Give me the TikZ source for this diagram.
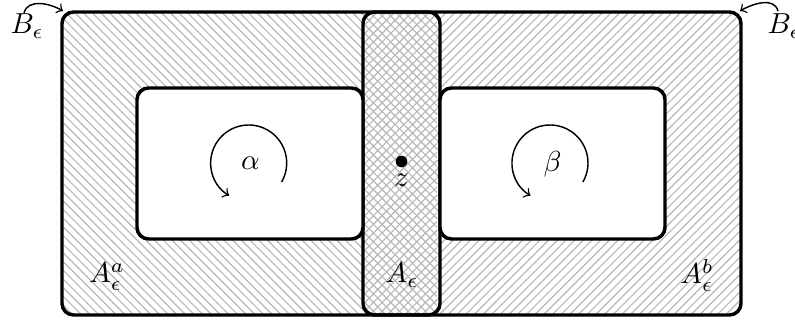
\documentclass[tikz,border=0pt]{standalone}
\usetikzlibrary{patterns}
\begin{document}
\begin{tikzpicture}[x=0.01214cm,y=0.01214cm,
  bord/.style={line width=1.2pt, rounded corners=4pt},
  innerbox/.style={bord, draw, fill=white, inner sep=0pt},
  stripbox/.style={bord, draw, inner sep=0pt, preaction={fill=white},
    pattern=crosshatch, pattern color=black!28},
  thinarrow/.style={->, line width=0.5pt},
  lbl/.style={inner sep=0pt}]
\useasboundingbox (0,0) rectangle (795,320);

% hatched halves of the outer region
\fill[pattern=north west lines, pattern color=black!28, rounded corners=4pt]
  (62,5) rectangle (402,308);
\fill[pattern=north east lines, pattern color=black!28, rounded corners=4pt]
  (401,5) rectangle (741,308);

% middle strip
\node[stripbox, minimum width=77*0.01214cm, minimum height=303*0.01214cm]
  (strip) at (401.5,156.5) {};
\draw[white, line width=0.45pt, dash pattern=on 1.2pt off 1.2pt]
  (437.6,14) -- (437.6,299);

% inner boxes
\node[innerbox, minimum width=226*0.01214cm, minimum height=151*0.01214cm]
  (boxa) at (250,156.5) {};
\node[innerbox, minimum width=225*0.01214cm, minimum height=151*0.01214cm]
  (boxb) at (552.5,156.5) {};

% outer boundary
\node[bord, draw, inner sep=0pt, minimum width=679*0.01214cm, minimum height=303*0.01214cm]
  (outer) at (401.5,156.5) {};

% rotation arrows
\node[lbl] (alpha) at (250.5,157) {$\alpha$};
\node[lbl] (beta) at (552.5,155.5) {$\beta$};
\coordinate (ca) at (248.7,157);
\coordinate (cb) at (550,157);
\draw[thinarrow] (ca) ++(-30:38) arc[start angle=-30, end angle=239, radius=38];
\draw[thinarrow] (cb) ++(-30:38) arc[start angle=-30, end angle=239, radius=38];

% point z
\node[circle, fill, inner sep=0pt, minimum size=4pt] (z) at (401.5,158.5) {};
\node[lbl] (zl) at (401.5,140) {$z$};

% region labels
\node[anchor=base, inner sep=0pt] (Aa) at (107,37) {$A_\epsilon^a$};
\node[anchor=base, inner sep=0pt] (A) at (402,37) {$A_\epsilon$};
\node[anchor=base, inner sep=0pt] (Ab) at (697,36) {$A_\epsilon^b$};

% boundary labels
\node[anchor=base west, inner sep=0pt] (Bl) at (10,286) {$B_\epsilon$};
\node[anchor=base west, inner sep=0pt] (Br) at (767,286) {$B_\epsilon$};
\coordinate (cl) at (63,309);
\coordinate (cr) at (740,309);
\draw[thinarrow] (24,307) to[out=75, in=150] (cl);
\draw[thinarrow] (778,309) to[out=105, in=30] (cr);
\end{tikzpicture}
\end{document}
